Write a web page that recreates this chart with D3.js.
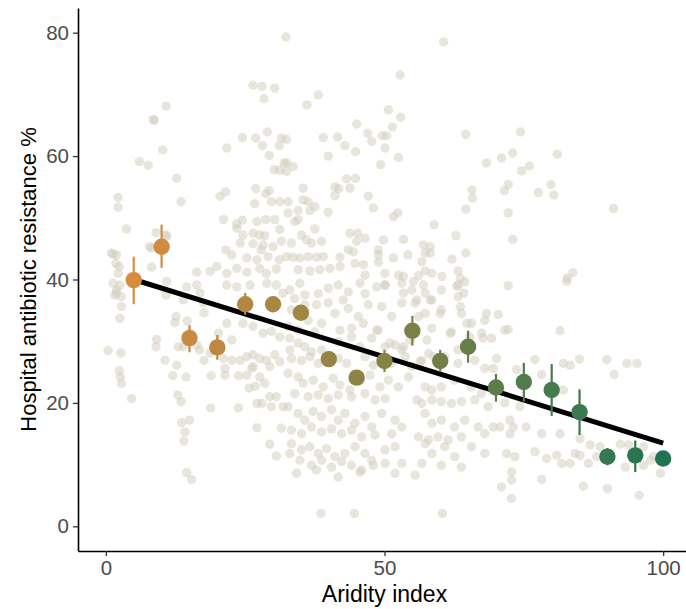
<!DOCTYPE html>
<html>
<head>
<meta charset="utf-8">
<script src="https://cdn.jsdelivr.net/npm/d3@7"></script>
<style>
  body { margin: 0; background: #fff; }
  text { font-family: "Liberation Sans", Arial, sans-serif; }
</style>
</head>
<body>
<div id="chart"></div>
<script>
// background sites: [aridity index, hospital resistance %]
var sites = [
  [32.3,79.3],[60.6,78.5],[52.8,73.1],[26.4,71.5],[28.0,71.3],[30.3,71.0],[28.4,69.3],[38.1,69.9],[36.1,68.3],[10.8,68.1],
  [8.5,65.9],[8.7,65.8],[50.7,67.5],[52.9,66.3],[51.4,64.7],[45.0,65.2],[47.0,63.7],[47.7,62.4],[49.6,63.3],[50.4,63.3],
  [50.1,61.3],[52.5,59.8],[49.3,58.6],[39.0,63.0],[41.6,63.1],[42.9,61.7],[39.9,60.0],[44.8,60.7],[32.4,62.7],[32.4,58.9],
  [33.6,58.3],[32.4,57.5],[64.6,63.5],[68.3,58.9],[74.4,63.9],[71.0,59.7],[73.0,60.5],[81.0,60.3],[74.6,57.6],[76.0,58.4],
  [72.2,55.4],[71.5,54.4],[77.6,54.1],[79.9,55.4],[80.4,53.7],[72.2,50.8],[91.1,51.5],[73.0,46.5],[83.8,41.1],[82.8,40.2],
  [10.2,61.0],[6.0,59.1],[7.6,58.5],[12.7,56.4],[13.5,52.6],[2.2,53.3],[2.2,51.7],[3.7,48.2],[9.0,47.6],[10.9,47.0],
  [7.8,45.3],[1.3,44.1],[1.9,44.0],[2.4,42.1],[1.8,42.6],[8.2,42.0],[8.2,45.1],[10.8,47.2],[10.9,39.7],[1.0,44.3],
  [2.2,41.0],[1.3,39.4],[2.5,39.1],[1.9,37.8],[21.7,61.3],[24.5,63.0],[26.9,62.9],[28.1,61.7],[29.0,63.9],[29.3,60.1],
  [31.1,61.7],[31.5,62.9],[30.2,57.8],[31.2,57.7],[32.0,58.9],[26.9,54.7],[29.3,54.4],[28.7,53.9],[26.7,52.3],[29.7,52.6],
  [31.2,52.6],[20.5,53.5],[21.5,54.2],[21.1,49.7],[23.5,49.0],[24.5,49.6],[27.1,49.4],[28.7,49.7],[30.3,49.7],[31.2,48.1],
  [23.5,48.3],[24.6,47.2],[26.4,47.5],[27.6,47.2],[28.5,47.1],[24.1,45.9],[26.4,45.8],[28.2,45.6],[27.9,44.8],[30.0,45.3],
  [31.5,46.2],[21.5,44.8],[22.6,44.0],[25.3,43.5],[27.1,43.2],[29.1,43.7],[31.1,43.2],[16.3,41.2],[18.7,41.3],[19.9,42.1],
  [21.7,41.0],[23.5,41.8],[25.3,41.2],[27.6,41.8],[28.8,41.0],[30.6,41.7],
  [43.2,56.3],[44.8,56.4],[41.1,55.0],[41.8,54.7],[43.8,54.8],[41.1,53.6],[47.1,53.5],[48.0,51.6],[35.4,54.8],[35.4,52.9],
  [36.3,52.6],[34.5,51.2],[36.6,51.2],[37.5,51.8],[39.9,50.9],[32.7,52.6],[32.7,50.8],[33.9,49.4],[34.5,49.7],[51.6,50.2],
  [52.4,50.8],[65.7,54.5],[65.8,53.2],[64.6,51.4],[58.9,48.9],[62.8,47.1],[64.6,44.3],[62.1,43.3],[63.2,41.4],[37.5,48.2],
  [35.1,47.2],[36.0,46.4],[36.9,45.9],[38.7,46.2],[33.3,45.9],[43.8,47.5],[45.2,47.5],[46.5,46.7],[45.0,46.2],[49.8,46.4],
  [53.4,46.5],[57.0,45.6],[58.2,45.3],[57.3,44.3],[58.2,44.3],[32.4,43.7],[33.6,43.6],[34.8,43.5],[36.3,43.7],[37.8,43.6],
  [39.0,43.7],[42.0,43.6],[43.5,44.8],[44.4,44.5],[44.7,42.6],[46.2,42.4],[42.0,42.1],[48.9,44.8],[48.9,44.0],[48.9,42.8],
  [51.6,43.5],[54.2,44.0],[56.7,42.9],[57.3,41.4],[34.5,41.6],[36.6,41.4],[38.4,41.6],[40.2,41.8],[46.5,40.7],[50.1,41.0],
  [52.5,40.7],[53.4,40.5],[56.1,40.6],[58.5,41.0],[60.3,40.5],[63.6,40.2],
  [1.9,38.3],[2.8,37.2],[1.6,37.5],[2.8,35.6],[2.5,33.7],[0.4,28.5],[2.7,28.1],[2.4,25.2],[2.6,24.2],[2.8,23.1],
  [4.6,20.7],[9.1,30.3],[9.0,29.1],[10.6,26.9],[12.7,26.1],[12.0,24.4],[14.4,24.2],[12.6,34.0],[12.4,33.0],[14.6,33.3],
  [17.6,34.6],[10.8,37.5],[13.0,29.1],[13.9,29.1],[16.8,28.6],[17.6,26.9],[18.7,28.1],[20.2,31.3],[21.7,32.9],[12.9,21.3],
  [13.5,20.2],[13.6,16.8],[15.0,17.2],[14.2,15.3],[14.0,13.8],[14.5,8.7],[15.4,7.6],[18.8,19.2],[23.8,19.2],[18.9,24.4],
  [21.4,24.5],[23.8,24.4],[25.3,24.5],[27.6,24.2],[28.5,23.2],[26.8,22.7],[25.7,22.4],[26.2,25.6],[21.4,25.6],[22.6,26.9],
  [21.1,27.2],[24.1,26.9],[25.3,27.5],[26.4,27.8],[27.6,27.2],[28.8,26.9],[30.3,27.8],[31.2,26.7],[29.4,25.9],[26.4,25.9],
  [27.1,19.9],[28.0,19.9],[29.4,21.0],[30.6,21.0],[29.7,19.4],[31.8,19.4],[27.1,16.0],[29.4,13.3],[30.6,11.4],[31.5,15.9],
  [16.3,39.1],[14.5,38.8],[16.9,37.8],[13.9,36.7],[17.5,36.2],[21.7,39.1],[23.5,38.8],[25.9,39.1],[28.9,39.4],[30.6,39.1],
  [31.8,37.8],[24.6,32.9],[26.4,32.4],[28.2,31.3],[29.7,31.6],[31.2,30.7],[22.6,30.2],[16.3,29.4],[15.1,31.3],
  [33.0,38.3],[34.8,39.4],[35.7,37.5],[38.1,37.7],[39.9,38.6],[41.7,39.1],[43.5,38.0],[45.6,39.4],[46.5,37.7],[48.6,38.8],
  [50.1,39.1],[53.1,39.4],[54.9,38.3],[55.8,36.7],[57.0,39.1],[58.5,36.7],[60.2,38.3],[63.2,39.1],[64.4,39.6],[63.2,37.2],
  [42.6,36.7],[39.9,36.2],[37.8,35.9],[35.7,35.9],[33.9,36.9],[33.3,35.1],[36.3,33.4],[38.7,32.9],[41.1,34.5],[43.5,35.3],
  [45.3,34.0],[46.2,32.9],[47.1,35.9],[49.5,35.6],[51.3,34.0],[53.1,36.2],[56.1,34.0],[57.3,34.5],[60.2,35.1],[63.8,34.5],
  [65.6,32.9],[68.0,33.4],[42.0,31.8],[44.1,32.1],[48.9,31.8],[32.7,32.4],[34.5,31.8],[37.5,31.5],[58.5,32.1],[62.0,31.5],
  [33.0,30.5],[34.5,29.7],[35.7,29.1],[36.9,28.3],[38.7,28.6],[41.7,29.9],[44.1,30.7],[45.6,29.1],[47.7,30.5],[50.1,29.1],
  [51.9,29.4],[53.1,28.6],[54.6,30.2],[56.7,26.9],[57.9,28.0],[60.8,27.5],[63.2,28.6],[65.3,30.7],[67.4,31.3],[33.3,27.2],
  [35.1,26.9],[36.6,27.5],[38.1,26.4],[41.7,27.2],[43.2,26.4],[46.5,27.5],[48.0,26.1],[51.3,26.4],[53.7,27.5],[54.9,25.9],
  [33.0,28.6],[63.2,26.4],[66.2,26.9],[68.0,25.6],[32.7,24.8],[34.5,24.2],[35.4,23.2],[37.2,23.7],[39.0,22.6],[40.8,24.0],
  [42.0,22.9],[43.8,22.1],[45.6,23.7],[47.4,24.5],[49.2,22.6],[50.7,23.7],[52.5,22.6],[54.3,24.2],[57.3,22.6],[58.5,22.1],
  [60.2,22.6],[62.6,23.7],[65.6,22.6],[67.4,21.5],[33.9,21.5],[36.3,21.0],[38.1,21.3],[39.9,20.7],[41.7,21.3],[44.1,21.0],
  [46.5,21.5],[48.3,20.5],[50.1,20.7],[55.8,20.5],[56.7,19.9],[58.5,20.5],[60.2,20.2],[62.0,19.9],[63.8,20.2],[66.2,20.5],
  [68.6,19.4],[32.7,19.4],[34.5,18.3],[35.7,17.2],[37.2,18.6],[38.7,17.8],[40.5,18.9],[41.7,17.2],[42.9,18.3],[44.7,16.7],
  [46.5,17.8],[47.7,16.1],[49.5,18.3],[51.9,17.2],[53.1,16.1],[57.3,18.3],[58.5,16.7],[60.2,17.2],[62.6,16.1],[64.4,17.2],
  [66.8,16.1],[33.3,15.6],[35.1,15.0],[36.9,16.1],[38.7,15.3],[40.5,15.8],[42.3,15.0],[44.1,15.6],[45.9,14.5],[48.3,14.8],
  [51.3,15.0],[57.9,14.0],[59.6,14.5],[61.4,14.0],[63.8,14.5],[68.0,15.0],[33.3,13.4],[35.1,12.4],[36.6,12.9],[38.1,11.8],
  [39.6,12.6],[41.1,11.3],[42.9,11.8],[44.7,12.9],[46.5,11.8],[47.7,10.7],[50.1,12.4],[51.9,12.9],[33.0,11.8],[34.8,10.7],
  [36.9,9.9],[38.7,10.7],[40.5,9.6],[42.3,10.5],[44.1,9.9],[45.9,9.1],[48.0,9.9],[50.1,10.2],[53.1,10.2],[56.7,10.2],
  [60.2,9.9],[34.2,8.6],[37.8,9.1],[41.7,8.0],[45.6,8.8],[51.9,8.6],[55.5,8.3],[38.6,2.1],[44.6,2.1],[60.4,2.1],
  [56.1,14.5],[57.3,13.4],[60.8,12.9],[58.5,11.8],[62.6,11.3],[65.6,12.9],[68.0,11.8],[63.8,9.6],
  [50.1,39.1],[55.2,39.7],[53.4,37.8],[55.5,36.2],[57.3,37.8],[58.2,36.7],[60.0,34.5],[63.0,38.9],[64.2,37.8],[63.6,35.6],
  [64.8,32.9],[68.3,34.5],[48.6,31.8],[51.0,29.7],[53.4,29.1],[56.4,26.7],[57.6,30.2],[58.8,27.5],[61.8,31.3],[67.7,30.5],
  [72.2,39.0],[82.7,39.7],[70.4,34.3],[69.2,30.5],[71.6,31.8],[72.2,31.9],[81.5,31.7],[70.1,27.2],[69.5,25.6],[73.7,25.4],
  [77.0,27.0],[78.2,24.6],[82.1,26.4],[83.3,26.1],[85.0,27.1],[89.9,27.0],[91.2,24.6],[93.5,26.4],[95.3,26.4],[82.1,22.1],
  [71.6,20.0],[74.3,19.4],[72.5,17.2],[69.5,16.1],[70.7,16.1],[73.1,16.1],[75.4,16.1],[72.5,15.0],[78.2,15.0],[81.5,15.0],
  [85.1,14.2],[86.9,13.2],[88.7,12.9],[92.3,13.3],[93.8,13.2],[96.5,12.9],[98.3,11.3],[97.7,10.7],[71.9,11.8],[73.4,11.3],
  [77.0,12.1],[79.1,11.0],[80.9,11.5],[81.8,10.2],[83.3,10.2],[84.2,11.8],[85.1,11.5],[86.6,10.2],[88.1,11.3],[93.2,9.6],
  [96.5,9.9],[72.8,8.8],[72.8,7.5],[71.0,6.4],[72.8,4.5],[78.2,7.6],[85.7,6.5],[90.0,6.1],[95.7,5.0],[99.5,8.6]
];

// binned means with error bars
var binX    = [5, 10, 15, 20, 25, 30, 35, 40, 45, 50, 55, 60, 65, 70, 75, 80, 85, 90, 95, 100];
var binMean = [39.9, 45.3, 30.5, 29.0, 36.0, 36.0, 34.6, 27.1, 24.1, 26.8, 31.7, 26.8, 29.1, 22.5, 23.4, 22.1, 18.5, 11.3, 11.5, 11.0];
var binLo   = [36.0, 41.9, 28.2, 27.0, 34.3, 34.8, 33.6, 26.3, 23.5, 25.0, 29.3, 25.0, 26.5, 20.2, 20.2, 17.9, 14.8, 9.9, 8.8, 10.3];
var binHi   = [43.7, 48.9, 32.6, 31.0, 37.8, 37.2, 35.6, 27.9, 24.7, 28.6, 34.1, 28.6, 31.7, 24.7, 26.5, 26.3, 22.2, 12.7, 13.9, 11.7];

// fitted line end points
var fitX = [5, 100];
var fitY = [40.0, 13.5];

var xTicks = [0, 50, 100];
var yTicks = [0, 20, 40, 60, 80];

var width = 686, height = 609;

var svg = d3.select("#chart").append("svg")
    .attr("width", width)
    .attr("height", height);

var x = d3.scaleLinear().domain([-5, 105]).range([78, 691]);
var y = d3.scaleLinear().domain([-4, 84]).range([551, 8]);

var color = d3.scaleLinear()
    .domain([5, 52.5, 100])
    .range(["#d98c3f", "#7f8146", "#1f7551"]);

// background points
svg.append("g")
  .selectAll("circle")
  .data(sites)
  .enter()
  .append("circle")
    .attr("cx", function(d) { return x(d[0]); })
    .attr("cy", function(d) { return y(d[1]); })
    .attr("r", 4.7)
    .style("fill", "#d3cfbf")
    .style("fill-opacity", 0.55);

// regression line
svg.append("line")
    .attr("x1", x(fitX[0]))
    .attr("y1", y(fitY[0]))
    .attr("x2", x(fitX[1]))
    .attr("y2", y(fitY[1]))
    .style("stroke", "#000")
    .style("stroke-width", 5);

// error bars
svg.append("g")
  .selectAll("line")
  .data(binX)
  .enter()
  .append("line")
    .attr("x1", function(d) { return x(d); })
    .attr("x2", function(d) { return x(d); })
    .attr("y1", function(d, i) { return y(binLo[i]); })
    .attr("y2", function(d, i) { return y(binHi[i]); })
    .style("stroke", function(d) { return color(d); })
    .style("stroke-width", 2.2);

// bin means
svg.append("g")
  .selectAll("circle")
  .data(binX)
  .enter()
  .append("circle")
    .attr("cx", function(d) { return x(d); })
    .attr("cy", function(d, i) { return y(binMean[i]); })
    .attr("r", 8.2)
    .style("fill", function(d) { return color(d); });

// axes
var xAxis = svg.append("g")
    .attr("transform", "translate(0,551)")
    .call(d3.axisBottom(x).tickValues(xTicks).tickSizeInner(5).tickSizeOuter(0).tickPadding(4));

var yAxis = svg.append("g")
    .attr("transform", "translate(78,0)")
    .call(d3.axisLeft(y).tickValues(yTicks).tickSizeInner(5).tickSizeOuter(0).tickPadding(4));

[xAxis, yAxis].forEach(function(a) {
    a.select(".domain").style("stroke", "#000").style("stroke-width", 1.6);
    a.selectAll(".tick line").style("stroke", "#333").style("stroke-width", 1.3);
    a.selectAll(".tick text")
        .style("fill", "#4d4d4d")
        .style("font-size", "20.5px")
        .style("font-family", "'Liberation Sans', Arial, sans-serif");
});

// axis titles
svg.append("text")
    .attr("x", x(50))
    .attr("y", 602)
    .attr("text-anchor", "middle")
    .style("font-size", "23px")
    .text("Aridity index");

svg.append("text")
    .attr("transform", "translate(36," + y(40) + ") rotate(-90)")
    .attr("text-anchor", "middle")
    .style("font-size", "22px")
    .text("Hospital antibiotic resistance %");
</script>
</body>
</html>
